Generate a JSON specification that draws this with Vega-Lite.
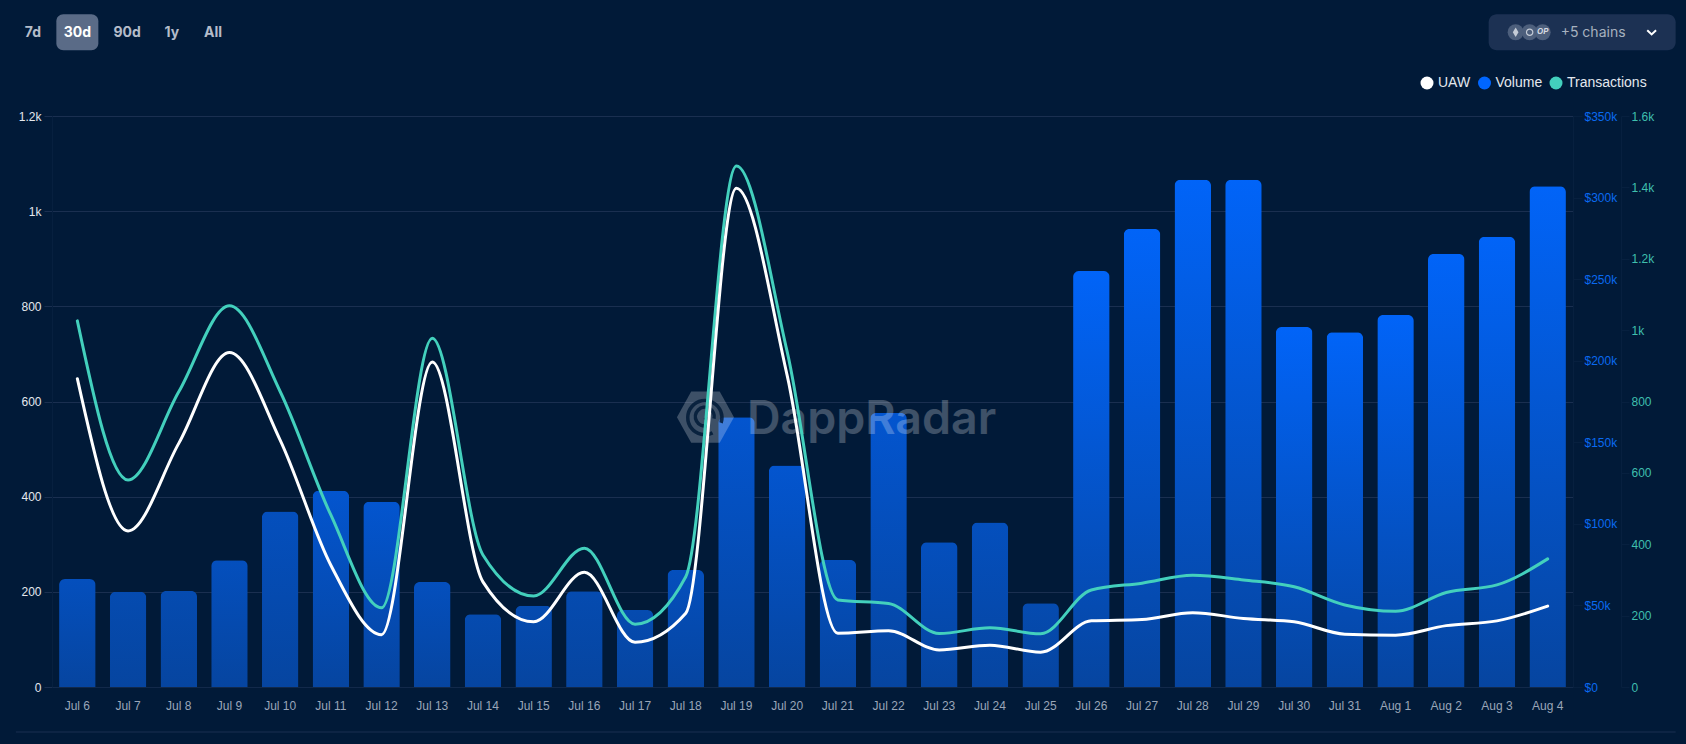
{
"$schema":"https://vega.github.io/schema/vega-lite/v6.json",
"width":1521,"height":571,
"autosize":{"type":"none"},
"padding":{"left":52,"top":116,"right":113,"bottom":57},
"background":"#011a38",
"config":{"view":{"stroke":null},"font":"Liberation Sans"},
"data":{"values":[
{"day":"Jul 6","uaw":648,"volume":66200,"transactions":1026},
{"day":"Jul 7","uaw":328,"volume":58400,"transactions":580},
{"day":"Jul 8","uaw":512,"volume":58900,"transactions":827},
{"day":"Jul 9","uaw":703,"volume":77700,"transactions":1068},
{"day":"Jul 10","uaw":519,"volume":107500,"transactions":828},
{"day":"Jul 11","uaw":256,"volume":120300,"transactions":482},
{"day":"Jul 12","uaw":110,"volume":113600,"transactions":222},
{"day":"Jul 13","uaw":683,"volume":64400,"transactions":977},
{"day":"Jul 14","uaw":221,"volume":44600,"transactions":370},
{"day":"Jul 15","uaw":137,"volume":49800,"transactions":255},
{"day":"Jul 16","uaw":241,"volume":58700,"transactions":389},
{"day":"Jul 17","uaw":94,"volume":47200,"transactions":176},
{"day":"Jul 18","uaw":155,"volume":71700,"transactions":309},
{"day":"Jul 19","uaw":1048,"volume":165300,"transactions":1460},
{"day":"Jul 20","uaw":655,"volume":135700,"transactions":940},
{"day":"Jul 21","uaw":113,"volume":77900,"transactions":244},
{"day":"Jul 22","uaw":118,"volume":168000,"transactions":234},
{"day":"Jul 23","uaw":78,"volume":88700,"transactions":150},
{"day":"Jul 24","uaw":88,"volume":100800,"transactions":166},
{"day":"Jul 25","uaw":73,"volume":51300,"transactions":149},
{"day":"Jul 26","uaw":139,"volume":255000,"transactions":272},
{"day":"Jul 27","uaw":142,"volume":280800,"transactions":291},
{"day":"Jul 28","uaw":156,"volume":311000,"transactions":313},
{"day":"Jul 29","uaw":144,"volume":311000,"transactions":300},
{"day":"Jul 30","uaw":137,"volume":220700,"transactions":281},
{"day":"Jul 31","uaw":111,"volume":217400,"transactions":230},
{"day":"Aug 1","uaw":109,"volume":228000,"transactions":212},
{"day":"Aug 2","uaw":129,"volume":265600,"transactions":265},
{"day":"Aug 3","uaw":139,"volume":276000,"transactions":286},
{"day":"Aug 4","uaw":170,"volume":307000,"transactions":359}
]},
"encoding":{
"x":{"field":"day","type":"nominal","sort":null,
"scale":{"type":"band","paddingInner":0.28,"paddingOuter":0.14,"domain":["Jul 6","Jul 7","Jul 8","Jul 9","Jul 10","Jul 11","Jul 12","Jul 13","Jul 14","Jul 15","Jul 16","Jul 17","Jul 18","Jul 19","Jul 20","Jul 21","Jul 22","Jul 23","Jul 24","Jul 25","Jul 26","Jul 27","Jul 28","Jul 29","Jul 30","Jul 31","Aug 1","Aug 2","Aug 3","Aug 4"]},
"axis":{"title":null,"labelAngle":0,"labelColor":"#9aa6b8","labelFontSize":12,"labelPadding":13,"ticks":false,"domainColor":"#12294a","grid":false}}
},
"layer":[
{"layer":[
{"mark":{"type":"bar","opacity":0},
"encoding":{"y":{"field":"volume","type":"quantitative","title":null,"scale":{"domain":[0,350000],"nice":false},
"axis":{"orient":"right","values":[0,50000,100000,150000,200000,250000,300000,350000],"labelExpr":"datum.value == 0 ? '$0' : '$' + (datum.value / 1000) + 'k'","labelColor":"#0a6af0","labelFontSize":12,"labelPadding":2,"tickSize":9,"tickColor":"#07203f","domainColor":"#07203f","grid":false,"title":null}},
"color":{"datum":"Volume","scale":{"domain":["UAW","Volume","Transactions"],"range":["#ffffff","#0066ff","#43d0bd"]},
"legend":{"title":null,"orient":"none","legendX":1368,"legendY":-40,"direction":"horizontal","columns":3,"symbolType":"circle","symbolSize":169,"symbolOpacity":1,"labelFontSize":14,"labelColor":"#e4e8ee","labelOffset":4,"columnPadding":6.5,"symbolStrokeWidth":0,"encode":{"symbols":{"update":{"fill":{"scale":"color","field":"value"},"opacity":{"value":1}}}}}}}},
{"transform":[{"filter":"datum.volume < 60000"}],
"mark":{"type":"bar","cornerRadiusTopLeft":6,"cornerRadiusTopRight":6,"fill":{"x1":0,"y1":0,"x2":0,"y2":1,"gradient":"linear","stops":[{"offset":0,"color":"#054bb0"},{"offset":1,"color":"#0645a0"}]}},
"encoding":{"y":{"field":"volume","type":"quantitative"}}},
{"transform":[{"filter":"datum.volume >= 60000 && datum.volume < 110000"}],
"mark":{"type":"bar","cornerRadiusTopLeft":6,"cornerRadiusTopRight":6,"fill":{"x1":0,"y1":0,"x2":0,"y2":1,"gradient":"linear","stops":[{"offset":0,"color":"#044fbd"},{"offset":1,"color":"#0645a0"}]}},
"encoding":{"y":{"field":"volume","type":"quantitative"}}},
{"transform":[{"filter":"datum.volume >= 110000 && datum.volume < 200000"}],
"mark":{"type":"bar","cornerRadiusTopLeft":6,"cornerRadiusTopRight":6,"fill":{"x1":0,"y1":0,"x2":0,"y2":1,"gradient":"linear","stops":[{"offset":0,"color":"#0355cf"},{"offset":1,"color":"#0645a0"}]}},
"encoding":{"y":{"field":"volume","type":"quantitative"}}},
{"transform":[{"filter":"datum.volume >= 200000"}],
"mark":{"type":"bar","cornerRadiusTopLeft":6,"cornerRadiusTopRight":6,"fill":{"x1":0,"y1":0,"x2":0,"y2":1,"gradient":"linear","stops":[{"offset":0,"color":"#0164f8"},{"offset":1,"color":"#0645a0"}]}},
"encoding":{"y":{"field":"volume","type":"quantitative"}}}
]},
{"layer":[
{"data":{"values":[{"label":"DappRadar"}]},
"mark":{"type":"text","font":"Inter","fontWeight":600,"fontSize":46.5,"align":"center","baseline":"middle","color":"#ffffff","opacity":0.24,"dx":-17,"dy":3},
"encoding":{"x":{"datum":"Jul 22"},"y":{"datum":567,"type":"quantitative","scale":{"domain":[0,1200],"nice":false},"axis":null},"text":{"field":"label"}}},
{"data":{"values":[{"label":"logo"}]},
"mark":{"type":"point","filled":true,"size":3249,"color":"#ffffff","opacity":0.24,"xOffset":-31,"shape":"M-1,0L-0.5,-0.9L0.5,-0.9L1,0L0.5,0.9L-0.5,0.9Z"},
"encoding":{"x":{"datum":"Jul 19"},"y":{"datum":567,"type":"quantitative"}}},
{"data":{"values":[{"label":"logo mark"}]},
"mark":{"type":"point","filled":false,"size":3249,"stroke":"#011a38","strokeWidth":3.5,"opacity":0.85,"xOffset":-31,"shape":"M0.25,0.55A0.6,0.6,0,1,1,0.55,0.2M0.05,0.3A0.33,0.33,0,1,1,0.3,0.05M-0.02,0.1L0.08,0"},
"encoding":{"x":{"datum":"Jul 19"},"y":{"datum":567,"type":"quantitative"}}}
]},
{"mark":{"type":"line","interpolate":"monotone","strokeWidth":3,"strokeCap":"round"},
"encoding":{"y":{"field":"transactions","type":"quantitative","scale":{"domain":[0,1600],"nice":false},
"axis":{"orient":"right","offset":48,"values":[0,200,400,600,800,1000,1200,1400,1600],"labelExpr":"datum.value >= 1000 ? (datum.value / 1000) + 'k' : '' + datum.value","labelColor":"#3fbfae","labelFontSize":12,"labelPadding":2,"tickSize":8,"tickColor":"#07203f","domainColor":"#07203f","grid":false,"title":null}},
"color":{"datum":"Transactions"}}},
{"mark":{"type":"line","interpolate":"monotone","strokeWidth":3,"strokeCap":"round"},
"encoding":{"y":{"field":"uaw","type":"quantitative","scale":{"domain":[0,1200],"nice":false},
"axis":{"orient":"left","values":[0,200,400,600,800,1000,1200],"labelExpr":"datum.value >= 1000 ? (datum.value / 1000) + 'k' : '' + datum.value","labelColor":"#e4e8ee","labelFontSize":12,"labelPadding":3,"tickSize":8,"tickColor":"#1a2f50","domainColor":"#07203f","grid":true,"gridColor":"#1a2f50","title":null}},
"color":{"datum":"UAW"}}},
{"layer":[
{"data":{"values":[{"label":"30d highlight"}]},"mark":{"type":"rect","width":42,"height":36,"cornerRadius":7,"color":"#5a6b87"},
"encoding":{"x":{"datum":"Jul 6"},"y":{"datum":1376,"type":"quantitative","scale":{"domain":[0,1200],"nice":false},"axis":null}}},
{"data":{"values":[{"label":"7d"}]},"mark":{"type":"text","font":"Inter","fontWeight":700,"fontSize":14,"color":"#b4bcc9","dx":-44.5,"dy":1},
"encoding":{"x":{"datum":"Jul 6"},"y":{"datum":1376,"type":"quantitative"},"text":{"field":"label"}}},
{"data":{"values":[{"label":"30d"}]},"mark":{"type":"text","font":"Inter","fontWeight":700,"fontSize":14,"color":"#ffffff","dy":1},
"encoding":{"x":{"datum":"Jul 6"},"y":{"datum":1376,"type":"quantitative"},"text":{"field":"label"}}},
{"data":{"values":[{"label":"90d"}]},"mark":{"type":"text","font":"Inter","fontWeight":700,"fontSize":14,"color":"#b4bcc9","dx":-1,"dy":1},
"encoding":{"x":{"datum":"Jul 7"},"y":{"datum":1376,"type":"quantitative"},"text":{"field":"label"}}},
{"data":{"values":[{"label":"1y"}]},"mark":{"type":"text","font":"Inter","fontWeight":700,"fontSize":14,"color":"#b4bcc9","dx":-7,"dy":1},
"encoding":{"x":{"datum":"Jul 8"},"y":{"datum":1376,"type":"quantitative"},"text":{"field":"label"}}},
{"data":{"values":[{"label":"All"}]},"mark":{"type":"text","font":"Inter","fontWeight":700,"fontSize":14,"color":"#b4bcc9","dx":-16.5,"dy":1},
"encoding":{"x":{"datum":"Jul 9"},"y":{"datum":1376,"type":"quantitative"},"text":{"field":"label"}}},
{"data":{"values":[{"label":"chain selector"}]},"mark":{"type":"rect","width":187,"height":36,"cornerRadius":8,"color":"#1c3153","xOffset":34.5},
"encoding":{"x":{"datum":"Aug 4"},"y":{"datum":1376,"type":"quantitative"}}},
{"data":{"values":[{"label":"eth"}]},"mark":{"type":"point","filled":true,"size":256,"color":"#4d5f7c","opacity":1,"xOffset":-32},
"encoding":{"x":{"datum":"Aug 4"},"y":{"datum":1376,"type":"quantitative"}}},
{"data":{"values":[{"label":"eth glyph"}]},"mark":{"type":"point","filled":true,"size":90,"shape":"M0,-1L0.6,0L0,1L-0.6,0Z","color":"#c5ccd7","opacity":1,"xOffset":-32},
"encoding":{"x":{"datum":"Aug 4"},"y":{"datum":1376,"type":"quantitative"}}},
{"data":{"values":[{"label":"arb"}]},"mark":{"type":"point","filled":true,"size":256,"color":"#4d5f7c","opacity":1,"xOffset":-18},
"encoding":{"x":{"datum":"Aug 4"},"y":{"datum":1376,"type":"quantitative"}}},
{"data":{"values":[{"label":"arb glyph"}]},"mark":{"type":"point","filled":false,"size":40,"stroke":"#c5ccd7","strokeWidth":1.2,"opacity":1,"xOffset":-18},
"encoding":{"x":{"datum":"Aug 4"},"y":{"datum":1376,"type":"quantitative"}}},
{"data":{"values":[{"label":"op"}]},"mark":{"type":"point","filled":true,"size":256,"color":"#4d5f7c","opacity":1,"xOffset":-5},
"encoding":{"x":{"datum":"Aug 4"},"y":{"datum":1376,"type":"quantitative"}}},
{"data":{"values":[{"label":"OP"}]},"mark":{"type":"text","font":"Inter","fontWeight":700,"fontStyle":"italic","fontSize":8,"color":"#d5dae2","dx":-5},
"encoding":{"x":{"datum":"Aug 4"},"y":{"datum":1376,"type":"quantitative"},"text":{"field":"label"}}},
{"data":{"values":[{"label":"+5 chains"}]},"mark":{"type":"text","font":"Inter","fontSize":14,"color":"#a7b1bf","align":"left","dx":13,"dy":1},
"encoding":{"x":{"datum":"Aug 4"},"y":{"datum":1376,"type":"quantitative"},"text":{"field":"label"}}},
{"data":{"values":[{"label":"chevron"}]},"mark":{"type":"point","filled":false,"size":121,"stroke":"#ffffff","strokeWidth":2,"opacity":1,"xOffset":104,"shape":"M-0.8,-0.35L0,0.4L0.8,-0.35"},
"encoding":{"x":{"datum":"Aug 4"},"y":{"datum":1376,"type":"quantitative"}}},
{"data":{"values":[{"label":"footer rule"}]},"mark":{"type":"rule","color":"#1a2f50","strokeWidth":1,"xOffset":-61.5,"x2Offset":128},
"encoding":{"x":{"datum":"Jul 6"},"x2":{"datum":"Aug 4"},"y":{"datum":-94.6,"type":"quantitative"}}}
]}
],
"resolve":{"scale":{"y":"independent"},"axis":{"y":"independent"}}
}
